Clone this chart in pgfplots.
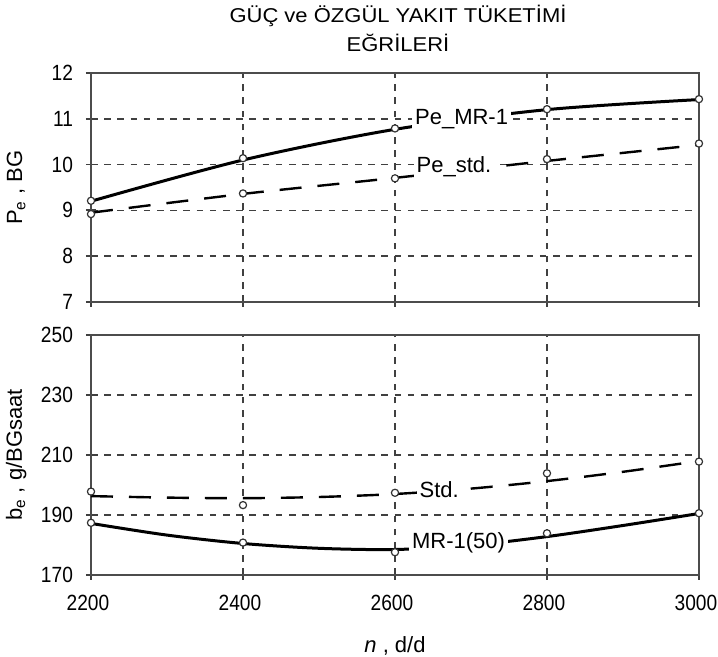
\documentclass[border=0pt]{standalone}
\usepackage{fontspec}
\setmainfont{Liberation Sans}
\usepackage{pgfplots}
\pgfplotsset{compat=1.18}

\newcommand\lbl{\fontsize{11}{13}\selectfont}

\pgfplotsset{
  engine/.style={
    scale only axis, width=304pt,
    xmin=2200, xmax=3000,
    xtick={2200,2400,2600,2800,3000},
    grid=major,
    major grid style={black!75, line width=0.7pt, dash pattern=on 3.3pt off 3.3pt},
    axis line style={black!70, line width=1.3pt},
    tick style={black!75, line width=0.9pt},
    tick align=center, major tick length=5pt, tick pos=left,
    /pgf/number format/assume math mode=true,
    /pgf/number format/1000 sep={},
    tick label style={font=\lbl, black},
    xticklabel={\scalebox{0.87}[1]{\pgfmathprintnumber{\tick}}},
    yticklabel={\scalebox{0.87}[1]{\pgfmathprintnumber{\tick}}},
    yticklabel style={xshift=-3pt},
    xticklabel style={yshift=-4pt, xshift=-1.5pt},
    every axis y label/.style={at={(axis description cs:-0.123,0.5)},
      rotate=90, anchor=center, font=\lbl},
    every axis x label/.style={at={(axis description cs:0.5,0)},
      anchor=north, yshift=-27pt, font=\lbl},
    clip=false,
  },
  mrline/.style={smooth, no marks, black, line width=1.5pt},
  stdline/.style={smooth, no marks, black, line width=1.2pt, dash pattern=on 11pt off 8pt},
  pts/.style={only marks, mark=*, mark size=1.8pt,
    mark options={solid, fill=white, draw=black!80, line width=0.6pt}},
}
\tikzset{tag/.style={anchor=west, fill=white, inner sep=1.5pt, font=\lbl}}

\begin{document}
\begin{tikzpicture}
% fixed page frame
\useasboundingbox (-45.5pt,-177.5pt) rectangle (313.5pt,151pt);

% title
\node[anchor=base, font=\fontsize{10}{12}\selectfont] at (153.5pt,139.5pt)
  {\scalebox{1.1}[1]{GÜÇ ve ÖZGÜL YAKIT TÜKETİMİ}};
\node[anchor=base, font=\fontsize{10}{12}\selectfont] at (153.5pt,125pt)
  {\scalebox{1.1}[1]{EĞRİLERİ}};

% power curves
\begin{axis}[engine, at={(0,0)}, anchor=south west, height=114.5pt,
  ymin=7, ymax=12, ytick={7,8,9,10,11,12}, xticklabels={},
  ylabel={P\textsubscript{e} , BG}]
  \addplot[mrline] coordinates {(2200,9.20) (2400,10.10) (2600,10.77) (2800,11.20) (3000,11.42)};
  \addplot[stdline] coordinates {(2200,8.95) (2400,9.36) (2600,9.71) (2800,10.08) (3000,10.43)};
  \addplot[pts] coordinates {(2200,9.21) (2400,10.14) (2600,10.79) (2800,11.21) (3000,11.43)};
  \addplot[pts] coordinates {(2200,8.92) (2400,9.37) (2600,9.70) (2800,10.12) (3000,10.46)};
  \node[tag] at (axis cs:2622,11.00) {Pe\_MR-1};
  \node[tag] at (axis cs:2624,9.96) {Pe\_std.};
\end{axis}

% specific fuel consumption curves
\begin{axis}[engine, at={(0,-136.5pt)}, anchor=south west, height=120pt,
  ymin=170, ymax=250, ytick={170,190,210,230,250},
  ylabel={b\textsubscript{e} , g/BGsaat},
  xlabel={\textit{n} , d/d}]
  \addplot[mrline] coordinates {(2200,187.2) (2300,183.3) (2400,180.5) (2500,178.9) (2600,178.5) (2700,179.9) (2800,182.8) (2900,186.5) (3000,190.5)};
  \addplot[stdline] coordinates {(2200,196.3) (2300,195.8) (2400,195.6) (2500,196.0) (2600,197.0) (2700,198.8) (2800,201.3) (2900,204.4) (3000,208.0)};
  \addplot[pts] coordinates {(2200,187.4) (2400,180.8) (2600,177.6) (2800,183.9) (3000,190.6)};
  \addplot[pts] coordinates {(2200,197.8) (2400,193.3) (2600,197.4) (2800,203.9) (3000,207.8)};
  \node[tag] at (axis cs:2628,198.6) {Std.};
  \node[tag] at (axis cs:2618,180.6) {MR-1(50)};
\end{axis}
\end{tikzpicture}
\end{document}
